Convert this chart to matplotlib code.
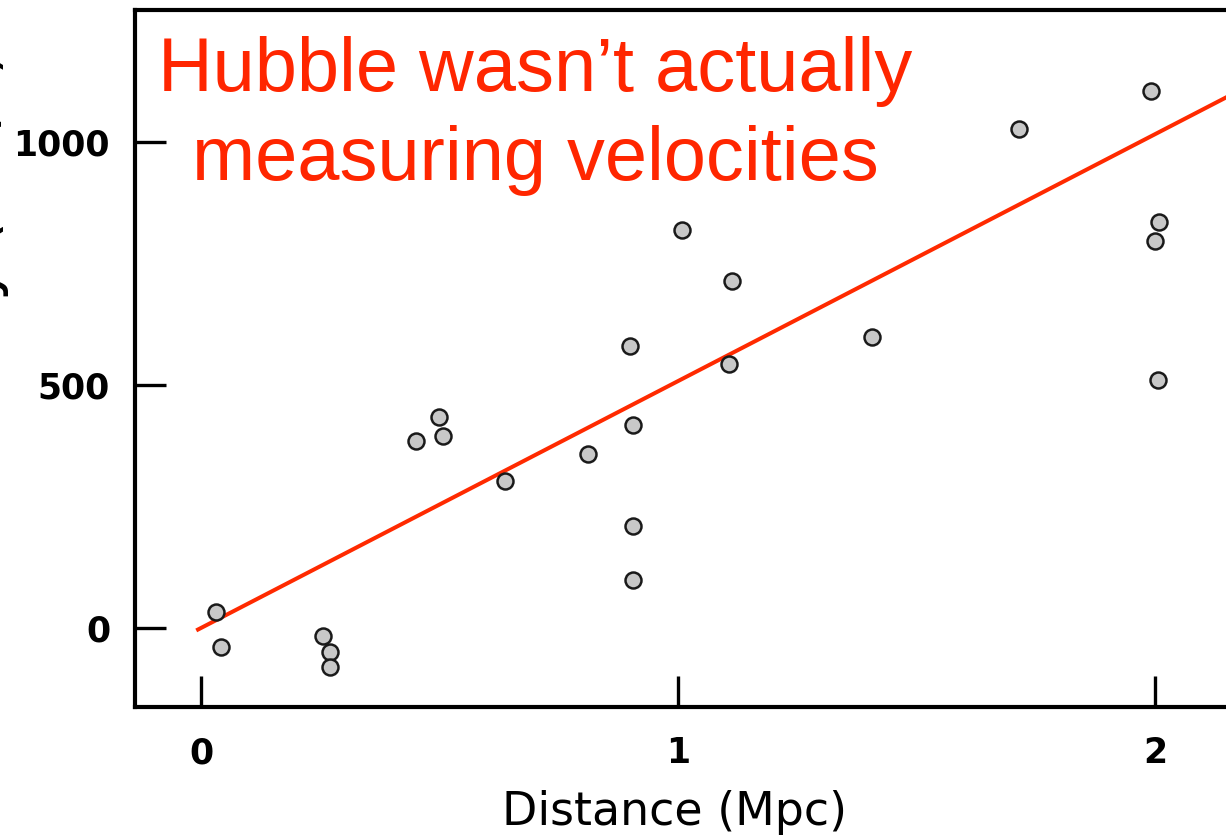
import numpy as np
import matplotlib.pyplot as plt

# Hubble (1929) style velocity-distance data
distance = [0.031, 0.042, 0.256, 0.270, 0.270, 0.451, 0.499, 0.507, 0.637,
            0.811, 0.899, 0.906, 0.906, 0.906, 1.008, 1.113, 1.107, 1.407,
            1.715, 1.992, 2.008, 2.000, 2.006]
velocity = [33, -39, -16, -49, -80, 385, 434, 395, 302,
            358, 580, 418, 210, 99, 819, 714, 543, 599,
            1027, 1105, 835, 796, 510]

# fitted line
hubble_slope = 508
fit_x = [-0.01, 2.3]

xticks = [0, 1, 2]
yticks = [0, 500, 1000]

W, H = 1226, 839
fig = plt.figure(figsize=(W / 100, H / 100), dpi=100)
# axes run past the right edge of the picture (the original is cropped)
ax = fig.add_axes([135 / W, (H - 707) / H, (1298 - 135) / W, (707 - 10) / H])

fit_y = [hubble_slope * v for v in fit_x]
ax.plot(fit_x, fit_y, color="#ff2a00", lw=2.9, zorder=2, solid_capstyle="butt")
ax.plot(distance, velocity, "o", ms=11.5, mfc="#c8c8c8", mec="#1a1a1a",
        mew=1.8, zorder=3, clip_on=False)

ax.set_xlim(-0.1384, 2.2998)
ax.set_ylim(-162.6, 1271.6)
ax.set_xticks(xticks)
ax.set_yticks(yticks)
ax.tick_params(direction="in", length=22, width=2.4, labelsize=25, pad=21)
ax.tick_params(axis="y", pad=18)
for lab in ax.get_xticklabels() + ax.get_yticklabels():
    lab.set_fontfamily("DejaVu Sans")
    lab.set_fontweight("bold")
for sp in ax.spines.values():
    sp.set_linewidth(3)

ax.set_xlabel("Distance (Mpc)", fontsize=33, family="DejaVu Sans")
ax.xaxis.set_label_coords((675 - 135) / (1298 - 135), (707 - 790) / 697)
# y label is cropped away at the left edge in the original: only the
# descender tips of "y", "(" and ")" are left in the picture
ax.set_ylabel("Velocity (km/s)", fontsize=44, family="DejaVu Sans")
ax.yaxis.set_label_coords((9 - 135) / (1298 - 135), 0.617)

fig.text(535 / W, 1 - 36 / H, "Hubble wasn\u2019t actually\nmeasuring velocities",
         color="#ff2600", fontsize=54.5, family="Liberation Sans",
         ha="center", va="top", multialignment="center", linespacing=1.32)

fig.savefig("out.png", dpi=100)
